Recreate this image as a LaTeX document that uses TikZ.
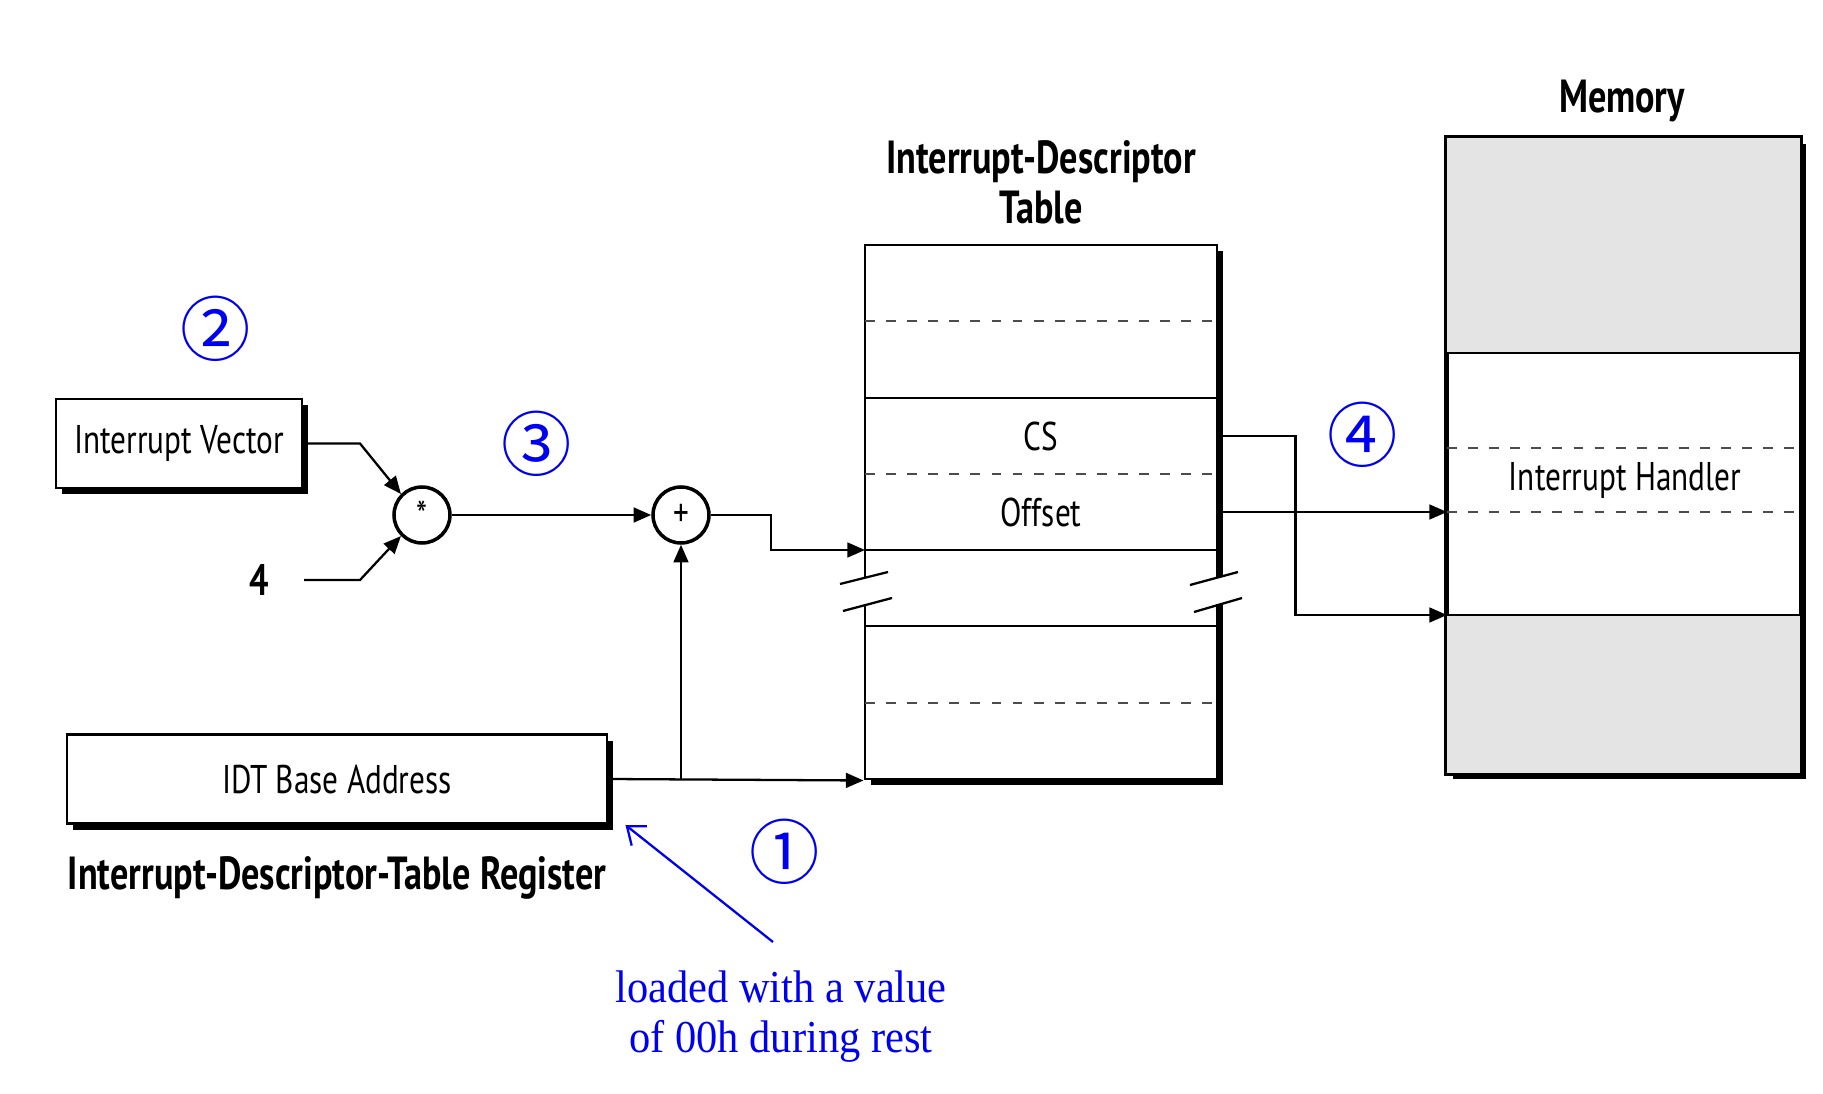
\documentclass[tikz,border=0pt]{standalone}
\usepackage{fontspec}
\setmainfont{PT Sans}[FakeStretch=0.78]
\newfontfamily\notefont{Liberation Serif}[FakeStretch=0.93]
\newfontfamily\stepfont{Noto Sans CJK SC}
\usetikzlibrary{arrows.meta,shadows}
\definecolor{memgray}{RGB}{228,228,228}
\definecolor{stepblue}{RGB}{0,0,240}
\begin{document}
\begin{tikzpicture}[>={Triangle[length=5pt,width=4.2pt]},
  every node/.style={font=\fontsize{11.4}{13}\selectfont},
  reg/.style={draw,line width=0.85pt,fill=white,inner sep=0pt,
    drop shadow={shadow xshift=0.06cm,shadow yshift=-0.06cm,opacity=1,fill=black}},
  op/.style={circle,draw,line width=1pt,minimum size=0.56cm,inner sep=0pt},
  title/.style={font=\fontsize{13.2}{14.2}\selectfont\bfseries,align=center},
  num/.style={text=stepblue,font=\stepfont\fontsize{20}{20}\selectfont},
  sep/.style={dash pattern=on 2.8pt off 3.2pt,draw=black!70,line width=0.6pt},
  link/.style={line width=0.65pt}]
\useasboundingbox (0,0) rectangle (18.23,10.93);
% registers and operators
\node[reg,minimum width=2.46cm,minimum height=0.89cm] (vec) at (1.79,6.495) {Interrupt Vector};
\node[reg,minimum width=5.40cm,minimum height=0.89cm] (base) at (3.37,3.14) {IDT Base Address};
\node[title] (regname) at (3.37,2.15) {Interrupt-Descriptor-Table Register};
\node[font=\fontsize{12.5}{14}\selectfont\bfseries] (four) at (2.59,5.13) {4};
\node[op] (mul) at (4.22,5.78) {*};
\node[op] (add) at (6.81,5.78) {+};
% descriptor table
\node[reg,minimum width=3.52cm,minimum height=5.34cm] (idt) at (10.41,5.81) {};
\node[title] (idtname) at (10.41,9.11) {Interrupt-Descriptor\\Table};
\foreach \y in {7.72,6.19,3.90} \draw[sep] (8.65,\y) -- (12.17,\y);
\foreach \y in {6.95,5.43,4.67} \draw[link] (8.65,\y) -- (12.17,\y);
\node (cs) at (10.41,6.57) {CS};
\node (offset) at (10.41,5.81) {Offset};
\fill[white] (8.5,4.88) rectangle (8.8,5.15);
\fill[white] (12.08,4.89) rectangle (12.32,5.16);
\draw[link] (8.40,5.09) -- (8.88,5.21);
\draw[link] (8.43,4.82) -- (8.92,4.95);
\draw[link] (11.90,5.08) -- (12.38,5.21);
\draw[link] (11.94,4.81) -- (12.42,4.95);
% memory
\node[reg,minimum width=3.53cm,minimum height=6.35cm] (mem) at (16.235,6.375) {};
\node[title] (memname) at (16.22,9.92) {Memory};
\fill[memgray] (mem.north west) rectangle (18.00,7.40);
\fill[memgray] (mem.south west) rectangle (18.00,4.78);
\draw[line width=0.85pt] (mem.south west) rectangle (mem.north east);
\coordinate (hlow) at (14.47,4.78);
\coordinate (hmid) at (14.47,5.81);
\draw[line width=0.85pt] (14.47,7.40) -- (18.00,7.40);
\draw[line width=0.85pt] (hlow) -- (18.00,4.78);
\draw[sep] (14.47,6.45) -- (18.00,6.45);
\draw[sep] (hmid) -- (18.00,5.81);
\node (handler) at (16.25,6.13) {Interrupt Handler};
% connectors
\coordinate (entry) at (8.65,5.43);
\draw[link,->] (vec.east) -- (3.60,6.495) -- (mul.north west);
\draw[link,->,shorten <=0.23cm] (four.east) -- (3.60,5.13) -- (mul.south west);
\draw[link,->] (mul) -- (add);
\draw[link,->] (add) -- ++(0.9,0) |- (entry);
\draw[link,->] (base.east) -- (idt.south west);
\draw[link,->] (base.east -| add) -- (add);
\draw[link,->] (idt.east |- cs) -- ++(0.77,0) |- (hlow);
\draw[link,->] (idt.east |- offset) -- (hmid);
% steps
\node[num] (s1) at (7.85,2.41) {①};
\node[num] (s2) at (2.16,7.64) {②};
\node[num] (s3) at (5.37,6.49) {③};
\node[num] (s4) at (13.63,6.58) {④};
\node[text=stepblue,font=\notefont\fontsize{13}{14.2}\selectfont,align=center] (note) at (7.81,0.76) {loaded with a value\\of 00h during rest};
\draw[stepblue,link,-{Straight Barb[length=4.5pt,width=7pt]}] (7.73,1.51) -- ([xshift=0.17cm]base.south east);
\end{tikzpicture}
\end{document}
